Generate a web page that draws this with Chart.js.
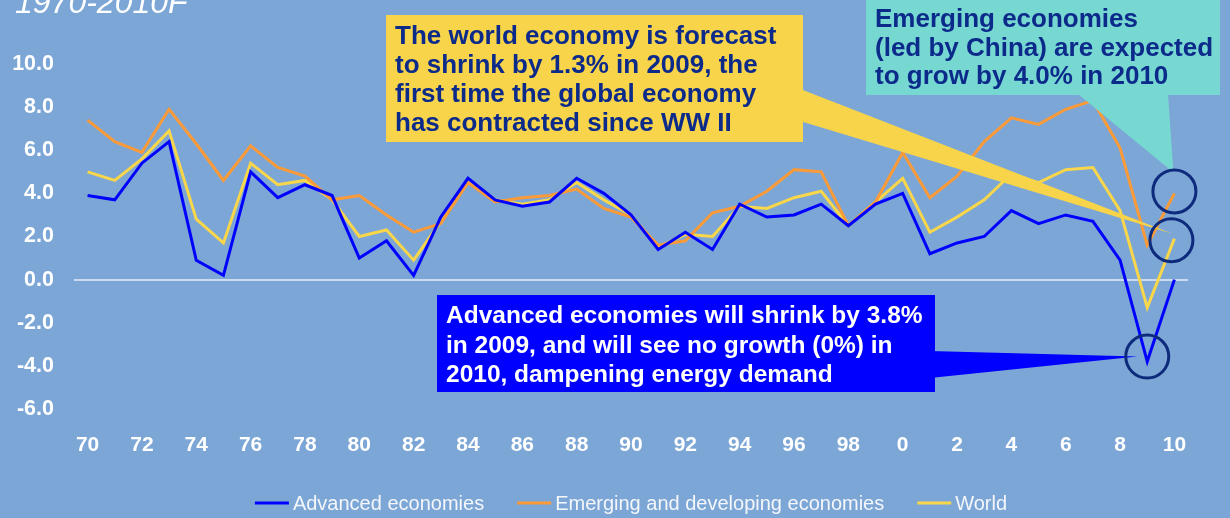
<!DOCTYPE html>
<html>
<head>
<meta charset="utf-8">
<script src="https://cdn.jsdelivr.net/npm/chart.js@4.4.1/dist/chart.umd.min.js"></script>
<style>
  html, body { margin: 0; padding: 0; background: #7ba6d6; }
  #wrap { width: 1230px; height: 518px; }
  canvas { display: block; }
</style>
</head>
<body>
<div id="wrap"><canvas id="growth" width="1230" height="518"></canvas></div>
<script>
// Real GDP growth, % per year, 1970-2010 (2009-2010 forecast)
const yearLabels = ['70','71','72','73','74','75','76','77','78','79',
                    '80','81','82','83','84','85','86','87','88','89',
                    '90','91','92','93','94','95','96','97','98','99',
                    '0','1','2','3','4','5','6','7','8','9','10'];

const advanced = [3.9, 3.7, 5.4, 6.4, 0.9, 0.2, 5.0, 3.8, 4.4, 3.9,
                  1.0, 1.8, 0.2, 2.9, 4.7, 3.7, 3.4, 3.6, 4.7, 4.0,
                  3.0, 1.4, 2.2, 1.4, 3.5, 2.9, 3.0, 3.5, 2.5, 3.5,
                  4.0, 1.2, 1.7, 2.0, 3.2, 2.6, 3.0, 2.7, 0.9, -3.8, 0.0];

const emerging = [7.4, 6.4, 5.9, 7.9, 6.3, 4.6, 6.2, 5.2, 4.8, 3.7,
                  3.9, 3.0, 2.2, 2.6, 4.5, 3.6, 3.8, 3.9, 4.2, 3.3,
                  2.9, 1.6, 1.8, 3.1, 3.4, 4.1, 5.1, 5.0, 2.5, 3.6,
                  5.9, 3.8, 4.8, 6.4, 7.5, 7.2, 7.9, 8.3, 6.1, 1.6, 4.0];

const world = [5.0, 4.6, 5.6, 6.9, 2.8, 1.7, 5.4, 4.4, 4.6, 3.7,
               2.0, 2.3, 0.9, 2.7, 4.6, 3.7, 3.5, 3.7, 4.5, 3.7,
               3.0, 1.5, 2.1, 2.0, 3.4, 3.3, 3.8, 4.1, 2.5, 3.6,
               4.7, 2.2, 2.9, 3.7, 4.9, 4.5, 5.1, 5.2, 3.2, -1.3, 1.9];

const seriesNames = ['Advanced economies', 'Emerging and developing economies', 'World'];
const seriesColors = ['#0000ff', '#fb9a38', '#f9d64a'];

const yTickMin = -6.0;
const yTickMax = 10.0;
const yTickStep = 2.0;

const NAVY = '#0b2a8a';
const FONT = '"Liberation Sans", Arial, Helvetica, sans-serif';

// Callout boxes, wedge pointers and highlight circles
const calloutPlugin = {
  id: 'callouts',
  afterDatasetsDraw(chart) {
    const { ctx, scales: { x, y } } = chart;
    const pt = (label, v) => ({ x: x.getPixelForValue(yearLabels.indexOf(label)), y: y.getPixelForValue(v) });
    const pWorld10 = pt('10', world[40]);
    const pEmerg10 = pt('10', emerging[40]);
    const pAdv09 = pt('9', advanced[39]);

    ctx.save();

    // World economy callout (yellow)
    ctx.fillStyle = '#f7d44a';
    ctx.fillRect(386, 15, 417, 127);
    ctx.beginPath();
    ctx.moveTo(790, 85);
    ctx.lineTo(pWorld10.x - 2, pWorld10.y - 5);
    ctx.lineTo(790, 118);
    ctx.closePath();
    ctx.fill();

    // Emerging economies callout (teal)
    ctx.fillStyle = '#77d8d2';
    ctx.fillRect(866, -5, 354, 100);
    ctx.beginPath();
    ctx.moveTo(1078, 94);
    ctx.lineTo(pEmerg10.x - 1, pEmerg10.y - 21);
    ctx.lineTo(1168, 94);
    ctx.closePath();
    ctx.fill();

    // Advanced economies callout (blue)
    ctx.fillStyle = '#0000ff';
    ctx.fillRect(437, 295, 498, 97);
    ctx.beginPath();
    ctx.moveTo(930, 351);
    ctx.lineTo(pAdv09.x - 10, pAdv09.y - 5);
    ctx.lineTo(930, 378);
    ctx.closePath();
    ctx.fill();

    // Callout texts
    ctx.textBaseline = 'alphabetic';
    ctx.textAlign = 'left';
    ctx.font = 'bold 26px ' + FONT;
    ctx.fillStyle = NAVY;
    ['The world economy is forecast',
     'to shrink by 1.3% in 2009, the',
     'first time the global economy',
     'has contracted since WW II'].forEach((t, i) => ctx.fillText(t, 395, 43.5 + i * 29));

    ['Emerging economies',
     '(led by China) are expected',
     'to grow by 4.0% in 2010'].forEach((t, i) => ctx.fillText(t, 875, 27 + i * 28.5));

    ctx.font = 'bold 24.5px ' + FONT;
    ctx.fillStyle = '#ffffff';
    ['Advanced economies will shrink by 3.8%',
     'in 2009, and will see no growth (0%) in',
     '2010, dampening energy demand'].forEach((t, i) => ctx.fillText(t, 446, 323 + i * 29.5));

    // Highlight circles
    ctx.strokeStyle = '#0d2a7c';
    ctx.lineWidth = 3;
    [[pEmerg10.x, pEmerg10.y - 2], [pWorld10.x - 3, pWorld10.y + 1.5], [pAdv09.x, pAdv09.y - 5]].forEach(([cx, cy]) => {
      ctx.beginPath();
      ctx.arc(cx, cy, 21.5, 0, Math.PI * 2);
      ctx.stroke();
    });

    ctx.restore();
  },
  afterDraw(chart) {
    const { ctx, chartArea } = chart;
    ctx.save();
    // Period title, partly above the top edge
    ctx.font = 'italic 32px ' + FONT;
    ctx.fillStyle = '#ffffff';
    ctx.textBaseline = 'alphabetic';
    ctx.fillText('1970-2010F', 15, 13);

    // Legend: short line sample followed by the series name
    ctx.font = '20px ' + FONT;
    ctx.textBaseline = 'middle';
    const sample = 34, gapText = 4, gapItem = 33;
    const widths = chart.data.datasets.map(ds => sample + gapText + ctx.measureText(ds.label).width);
    const total = widths.reduce((a, b) => a + b, 0) + gapItem * (widths.length - 1);
    let lx = (chartArea.left + chartArea.right) / 2 - total / 2;
    const ly = 503;
    chart.data.datasets.forEach((ds, i) => {
      ctx.strokeStyle = ds.borderColor;
      ctx.lineWidth = 3;
      ctx.beginPath();
      ctx.moveTo(lx, ly);
      ctx.lineTo(lx + sample, ly);
      ctx.stroke();
      ctx.fillStyle = '#f4f6fa';
      ctx.fillText(ds.label, lx + sample + gapText, ly + 1);
      lx += widths[i] + gapItem;
    });
    ctx.restore();
  }
};

const bgPlugin = {
  id: 'bg',
  beforeDraw(chart) {
    const { ctx } = chart;
    ctx.save();
    ctx.fillStyle = '#7ba6d6';
    ctx.fillRect(0, 0, chart.width, chart.height);
    ctx.restore();
  }
};

const seriesData = [advanced, emerging, world];

new Chart(document.getElementById('growth'), {
  type: 'line',
  data: {
    labels: yearLabels,
    datasets: seriesData.map((d, i) => ({
      label: seriesNames[i],
      data: d,
      borderColor: seriesColors[i],
      backgroundColor: seriesColors[i],
      borderWidth: 3,
      pointRadius: 0,
      tension: 0,
      fill: false
    }))
  },
  options: {
    responsive: false,
    animation: false,
    devicePixelRatio: 1,
    layout: { padding: { top: 64, right: 42, bottom: 49, left: 0 } },
    plugins: {
      legend: { display: false },
      tooltip: { enabled: false }
    },
    scales: {
      x: {
        type: 'category',
        offset: true,
        grid: { display: false, drawTicks: false },
        border: { display: false },
        ticks: {
          autoSkip: false,
          maxRotation: 0,
          minRotation: 0,
          padding: 24,
          color: '#ffffff',
          font: { family: FONT, size: 21, weight: 'bold' },
          callback: (v, i) => (i % 2 === 0 ? yearLabels[i] : '')
        },
        afterFit: s => { s.height = 60; }
      },
      y: {
        min: yTickMin,
        max: yTickMax,
        grid: {
          drawTicks: false,
          lineWidth: 2,
          color: c => (c.tick && c.tick.value === 0 ? '#cbdaf0' : 'rgba(0,0,0,0)')
        },
        border: { display: false },
        ticks: {
          stepSize: yTickStep,
          padding: 20,
          color: '#ffffff',
          font: { family: FONT, size: 21.5, weight: 'bold' },
          callback: v => Number(v).toFixed(1)
        },
        afterFit: s => { s.width = 74; }
      }
    }
  },
  plugins: [bgPlugin, calloutPlugin]
});
</script>
</body>
</html>
